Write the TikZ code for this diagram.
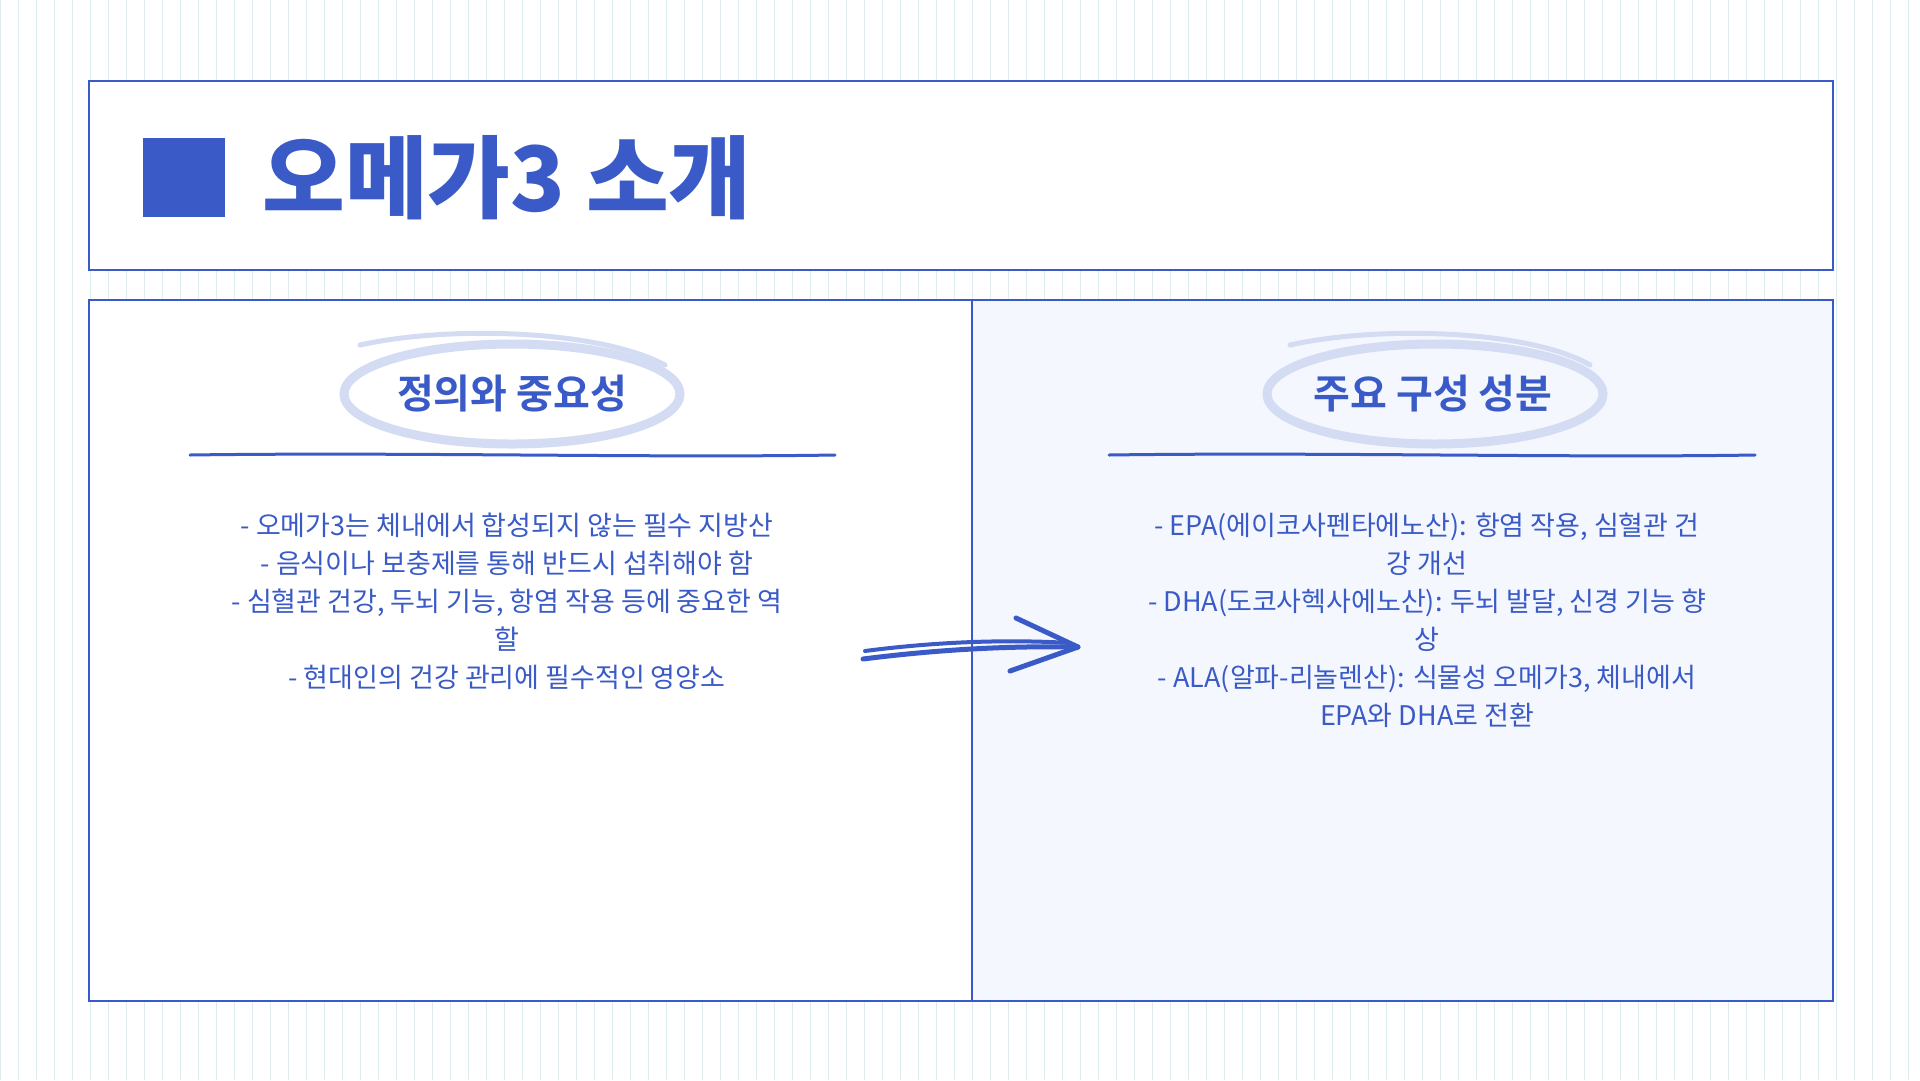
\documentclass[tikz,border=0pt]{standalone}
\usepackage{fontspec}
\setmainfont{Noto Sans CJK KR}
\newfontfamily\blk{Noto Sans CJK KR Black}
\newfontfamily\bld{Noto Sans CJK KR Bold}
\definecolor{mb}{HTML}{3A5BC7}
\definecolor{lb}{HTML}{D3DCF3}
\definecolor{pb}{HTML}{F4F7FD}
\definecolor{gr}{HTML}{DCECEF}
\tikzset{panel/.style={draw=mb,line width=2pt},
 head/.style={font=\bld\fontsize{40}{48}\selectfont,text=mb},
 body/.style={font=\fontsize{27}{38}\selectfont,text=mb,align=center},
 brush/.style={draw=lb,line width=9pt,line cap=round},
 uline/.style={draw=mb,line width=3pt,line cap=round}}
\begin{document}
\begin{tikzpicture}[x=1pt,y=-1pt]
\useasboundingbox (0,0) rectangle (1920,1080);
\fill[white] (0,0) rectangle (1920,1080);
\draw[gr,line width=0.8pt,step=18] (0,0) grid (1920,1080);
\node[panel,fill=white,minimum width=1744,minimum height=189,inner sep=0,anchor=north west] (title) at (88,80) {};
\fill[mb] (143,138) rectangle (225,217);
\node[anchor=west,font=\blk\fontsize{90}{100}\selectfont,text=mb,inner sep=0] (tt) at (262,178) {오메가3 소개};
\node[panel,fill=white,minimum width=883,minimum height=701,inner sep=0,anchor=north west] (lp) at (88,299) {};
\node[panel,fill=pb,minimum width=861,minimum height=701,inner sep=0,anchor=north west] (rp) at (971,299) {};
% left
\draw[brush] (512,394) ellipse [x radius=168,y radius=50];
\draw[brush,line width=5pt] (360,345) .. controls (450,325) and (600,330) .. (665,365);
\node[head] (h1) at (512,394) {정의와 중요성};
\draw[uline] (190,455) .. controls (400,452) and (650,458) .. (835,455);
\node[body] (t1) at (507,601) {- 오메가3는 체내에서 합성되지 않는 필수 지방산\\- 음식이나 보충제를 통해 반드시 섭취해야 함\\- 심혈관 건강, 두뇌 기능, 항염 작용 등에 중요한 역\\할\\- 현대인의 건강 관리에 필수적인 영양소};
% right
\draw[brush] (1435,394) ellipse [x radius=168,y radius=50];
\draw[brush,line width=5pt] (1290,345) .. controls (1380,325) and (1530,330) .. (1590,365);
\node[head] (h2) at (1433,394) {주요 구성 성분};
\draw[uline] (1109,455) .. controls (1320,452) and (1570,458) .. (1755,455);
\node[body] (t2) at (1427,620) {- EPA(에이코사펜타에노산): 항염 작용, 심혈관 건\\강 개선\\- DHA(도코사헥사에노산): 두뇌 발달, 신경 기능 향\\상\\- ALA(알파-리놀렌산): 식물성 오메가3, 체내에서\\EPA와 DHA로 전환};
% arrow
\coordinate (a0) at (863,659);
\coordinate (a1) at (1078,647);
\draw[mb,line width=5pt,line cap=round] (a0) .. controls (950,648) and (1020,646) .. (a1);
\draw[mb,line width=4pt,line cap=round] (865,651) .. controls (950,640) and (1020,640) .. (1070,643);
\draw[mb,line width=5pt,line cap=round,line join=round] (1016,618) -- (a1) -- (1010,671);
\end{tikzpicture}
\end{document}
